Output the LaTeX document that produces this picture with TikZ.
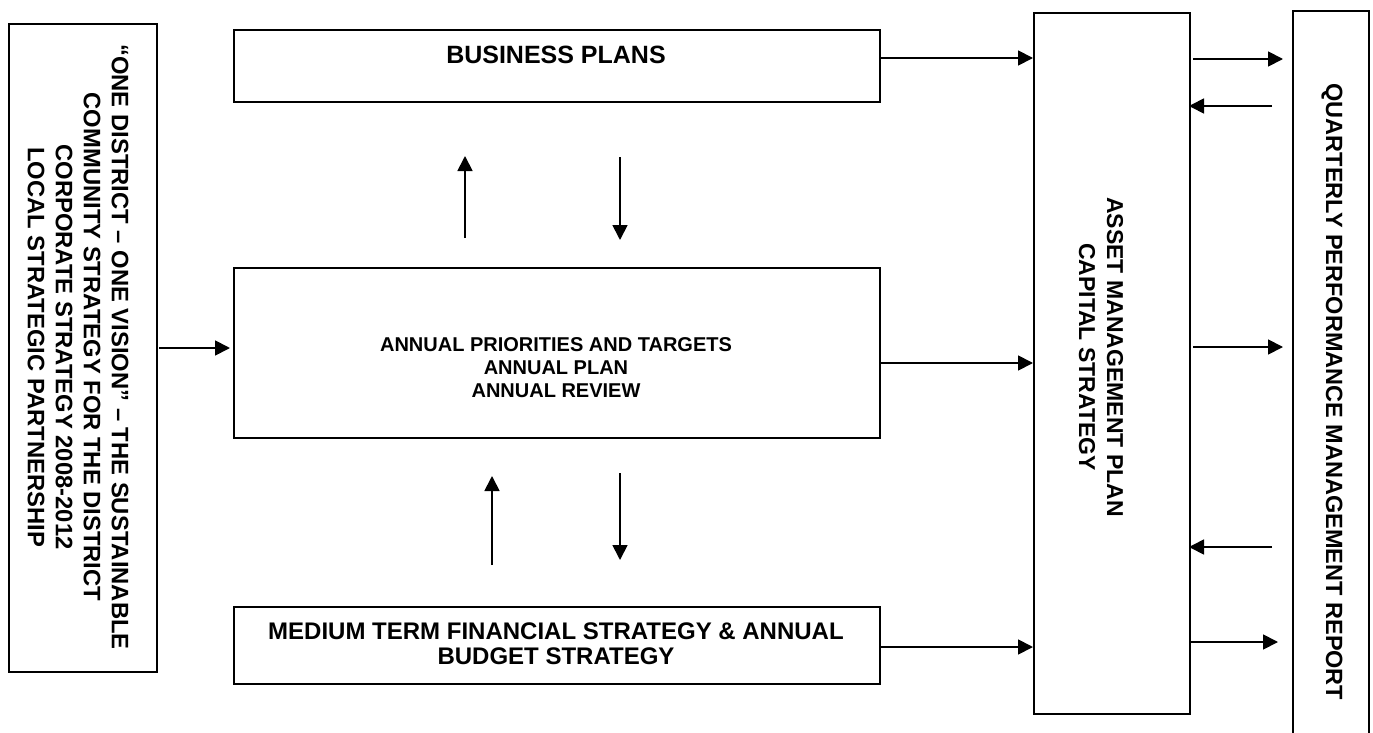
\documentclass[tikz,border=0pt]{standalone}
\usepackage{fontspec}
\setmainfont{Liberation Sans}
\usetikzlibrary{arrows.meta}
\begin{document}
\begin{tikzpicture}[x=1pt,y=-1pt,
  box/.style={draw, line width=1.8pt, rectangle, inner sep=0pt, anchor=north west},
  lbl/.style={align=center, inner sep=0pt},
  vlbl/.style={align=center, inner sep=0pt, rotate=-90},
  arr/.style={line width=1.8pt, -{Triangle[length=15pt,width=15pt]}}]
\useasboundingbox (0,0) rectangle (1373,733);
% boxes
\node[box, minimum width=148pt, minimum height=648pt] (lb) at (8,23) {};
\node[box, minimum width=646pt, minimum height=72pt] (bp) at (233,29) {};
\node[box, minimum width=646pt, minimum height=170pt] (ap) at (233,267) {};
\node[box, minimum width=646pt, minimum height=77pt] (mt) at (233,606) {};
\node[box, minimum width=156pt, minimum height=701pt] (am) at (1033,12) {};
\node[box, minimum width=76pt, minimum height=740pt] (qr) at (1292,10) {};
% texts
\node[vlbl, font=\fontsize{23.8}{28}\selectfont\bfseries] (lbt) at (78,347) {“ONE DISTRICT – ONE VISION” – THE SUSTAINABLE\\COMMUNITY STRATEGY FOR THE DISTRICT\\CORPORATE STRATEGY 2008-2012\\LOCAL STRATEGIC PARTNERSHIP};
\node[lbl, font=\fontsize{25}{28}\selectfont\bfseries] (bpt) at (556,55) {BUSINESS PLANS};
\node[lbl, font=\fontsize{20}{23}\selectfont\bfseries] (apt) at (556,368) {ANNUAL PRIORITIES AND TARGETS\\ANNUAL PLAN\\ANNUAL REVIEW};
\node[lbl, font=\fontsize{24}{25}\selectfont\bfseries] (mtt) at (556,644) {MEDIUM TERM FINANCIAL STRATEGY \& ANNUAL\\BUDGET STRATEGY};
\node[vlbl, font=\fontsize{23}{28}\selectfont\bfseries] (amt) at (1101,357) {ASSET MANAGEMENT PLAN\\CAPITAL STRATEGY};
\node[vlbl, font=\fontsize{23.5}{28}\selectfont\bfseries] (qrt) at (1332,392) {QUARTERLY PERFORMANCE MANAGEMENT REPORT};
% connector end points
\coordinate (b1) at (879,58);   \coordinate (b2) at (1033,58);
\coordinate (a1) at (879,363);  \coordinate (a2) at (1033,363);
\coordinate (m1) at (879,647);  \coordinate (m2) at (1033,647);
\coordinate (l1) at (159,348);  \coordinate (l2) at (230,348);
\coordinate (u1a) at (465,238); \coordinate (u1b) at (465,156);
\coordinate (d1a) at (620,157); \coordinate (d1b) at (620,240);
\coordinate (u2a) at (492,565); \coordinate (u2b) at (492,476);
\coordinate (d2a) at (620,473); \coordinate (d2b) at (620,560);
\coordinate (q1a) at (1193,59);  \coordinate (q1b) at (1283,59);
\coordinate (q2a) at (1272,106); \coordinate (q2b) at (1189,106);
\coordinate (q3a) at (1193,347); \coordinate (q3b) at (1283,347);
\coordinate (q4a) at (1272,547); \coordinate (q4b) at (1189,547);
\coordinate (q5a) at (1189,642); \coordinate (q5b) at (1278,642);
% connectors
\draw[arr] (b1) -- (b2);
\draw[arr] (a1) -- (a2);
\draw[arr] (m1) -- (m2);
\draw[arr] (l1) -- (l2);
\draw[arr] (u1a) -- (u1b);
\draw[arr] (d1a) -- (d1b);
\draw[arr] (u2a) -- (u2b);
\draw[arr] (d2a) -- (d2b);
\draw[arr] (q1a) -- (q1b);
\draw[arr] (q2a) -- (q2b);
\draw[arr] (q3a) -- (q3b);
\draw[arr] (q4a) -- (q4b);
\draw[arr] (q5a) -- (q5b);
\end{tikzpicture}
\end{document}
